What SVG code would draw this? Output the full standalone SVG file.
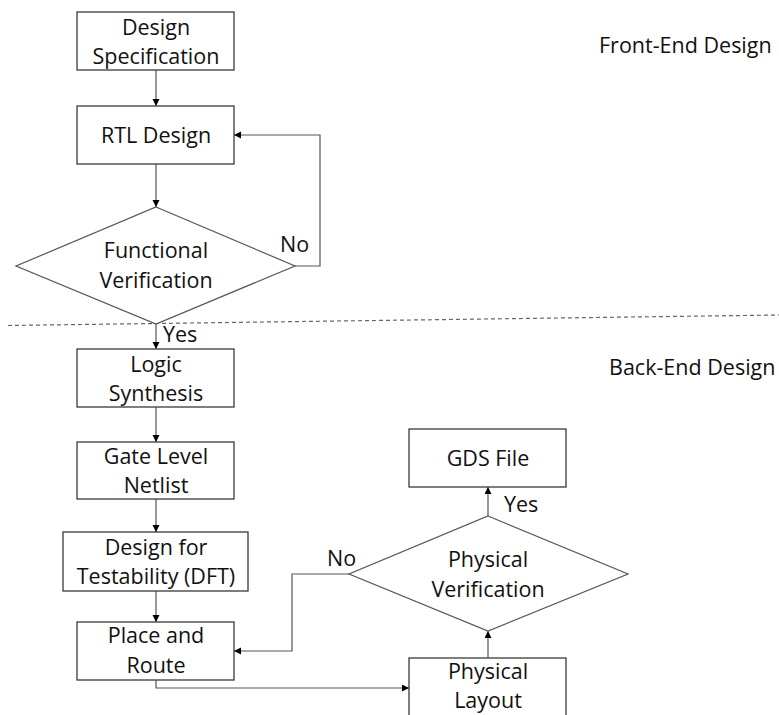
<svg xmlns="http://www.w3.org/2000/svg" width="779" height="715" viewBox="0 0 779 715">
<style>
.box{fill:#fff;stroke:#3a3a3a;stroke-width:1.3}
.dia{fill:#fff;stroke:#555;stroke-width:1.2}
.t{font-family:"Open Sans","Liberation Sans",sans-serif;font-size:21.5px;fill:#111;text-anchor:middle}
.l{font-family:"Open Sans","Liberation Sans",sans-serif;font-size:21.5px;fill:#111}
.c{fill:none;stroke:#555;stroke-width:1.2}
</style>
<defs>
<marker id="ah" markerWidth="8" markerHeight="8" refX="7" refY="3.5" orient="auto" markerUnits="userSpaceOnUse">
<path d="M0,0 L7,3.5 L0,7 Z" fill="#000"/>
</marker>
</defs>
<rect width="779" height="715" fill="#fff"/>
<g id="connectors">
<line class="c" x1="156" y1="70" x2="156" y2="106" marker-end="url(#ah)"/>
<line class="c" x1="156" y1="164" x2="156" y2="207" marker-end="url(#ah)"/>
<polyline class="c" points="295,266 320,266 320,135 234,135" marker-end="url(#ah)"/>
<line class="c" x1="156" y1="324" x2="156" y2="349" marker-end="url(#ah)"/>
<line class="c" x1="156" y1="407" x2="156" y2="442" marker-end="url(#ah)"/>
<line class="c" x1="156" y1="499" x2="156" y2="532" marker-end="url(#ah)"/>
<line class="c" x1="156" y1="591" x2="156" y2="622" marker-end="url(#ah)"/>
<polyline class="c" points="156,680 156,688 409,688" marker-end="url(#ah)"/>
<line class="c" x1="488" y1="658" x2="488" y2="631" marker-end="url(#ah)"/>
<line class="c" x1="488" y1="516" x2="488" y2="487" marker-end="url(#ah)"/>
<polyline class="c" points="349,574 292,574 292,651 234,651" marker-end="url(#ah)"/>
</g>
<line x1="8" y1="325.5" x2="779" y2="315" stroke="#666" stroke-width="1.2" stroke-dasharray="4,3"/>
<g id="design-spec">
<rect class="box" x="77" y="12" width="157" height="58"/>
<text class="t" x="156" y="35">Design</text>
<text class="t" x="156" y="64">Specification</text>
</g>
<g id="rtl-design">
<rect class="box" x="77" y="106" width="157" height="58"/>
<text class="t" x="156" y="143">RTL Design</text>
</g>
<g id="functional-verification">
<polygon class="dia" points="156,207 295,266 156,324 16,266"/>
<text class="t" x="156" y="258">Functional</text>
<text class="t" x="156" y="288">Verification</text>
</g>
<g id="logic-synthesis">
<rect class="box" x="77" y="349" width="157" height="58"/>
<text class="t" x="156" y="372">Logic</text>
<text class="t" x="156" y="401">Synthesis</text>
</g>
<g id="gate-level-netlist">
<rect class="box" x="77" y="442" width="157" height="57"/>
<text class="t" x="156" y="464">Gate Level</text>
<text class="t" x="156" y="493">Netlist</text>
</g>
<g id="dft">
<rect class="box" x="63" y="532" width="185" height="59"/>
<text class="t" x="156" y="555">Design for</text>
<text class="t" x="156" y="584">Testability (DFT)</text>
</g>
<g id="place-route">
<rect class="box" x="77" y="622" width="157" height="58"/>
<text class="t" x="156" y="643">Place and</text>
<text class="t" x="156" y="673">Route</text>
</g>
<g id="gds-file">
<rect class="box" x="409" y="429" width="157" height="58"/>
<text class="t" x="488" y="466">GDS File</text>
</g>
<g id="physical-verification">
<polygon class="dia" points="488,516 628,574 488,631 349,574"/>
<text class="t" x="488" y="567">Physical</text>
<text class="t" x="488" y="597">Verification</text>
</g>
<g id="physical-layout">
<rect class="box" x="409" y="658" width="157" height="58"/>
<text class="t" x="488" y="679">Physical</text>
<text class="t" x="488" y="708">Layout</text>
</g>
<g id="labels">
<text class="l" x="280" y="252">No</text>
<text class="l" x="163" y="342">Yes</text>
<text class="l" x="504" y="512">Yes</text>
<text class="l" x="327" y="566">No</text>
<text class="l" x="599" y="53">Front-End Design</text>
<text class="l" x="609" y="375">Back-End Design</text>
</g>
</svg>
